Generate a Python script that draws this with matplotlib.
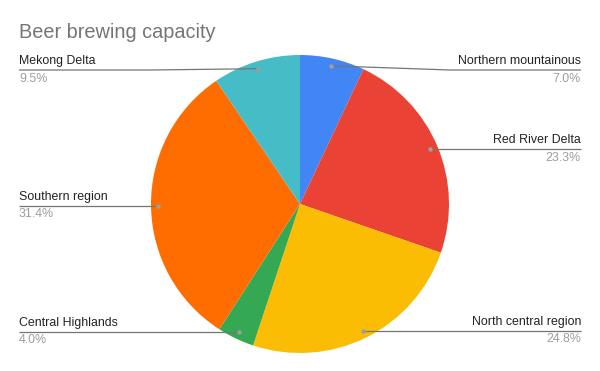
import numpy as np
import matplotlib
matplotlib.use("Agg")
import matplotlib.pyplot as plt

categories = ["Northern mountainous", "Red River Delta", "North central region",
              "Central Highlands", "Southern region", "Mekong Delta"]
values = [7.0, 23.3, 24.8, 4.0, 31.4, 9.5]
colors = ["#4285F4", "#EA4335", "#FBBC04", "#34A853", "#FF6D01", "#46BDC6"]

W, H = 600, 371
fig = plt.figure(figsize=(W / 100, H / 100), dpi=100)
ax = fig.add_axes([0, 0, 1, 1])

cx, cy, R = 300, H - 204, 149
ax.pie(values, colors=colors, startangle=90, counterclock=False,
       center=(cx, cy), radius=R, frame=True,
       wedgeprops=dict(linewidth=0))
ax.set_xlim(0, W)
ax.set_ylim(0, H)
ax.set_aspect("equal")
ax.axis("off")

fam = ["Liberation Sans", "DejaVu Sans"]
fig.text(19 / W, 1 - 32 / H, "Beer brewing capacity", fontsize=14.3, color="#757575",
         family=fam, va="center", ha="left")

# label line y (pixel from top, None = level with dot) and side
label_y = [70, None, None, None, None, 70]
sides = ["R", "R", "R", "L", "L", "L"]
knee = [450, None, None, None, None, 150]

total = sum(values)
cum = 0
for i, v in enumerate(values):
    mid = (cum + v / 2) / total * 2 * np.pi
    cum += v
    dx, dy = np.sin(mid) * R * 0.95, np.cos(mid) * R * 0.95
    px, py = cx + dx, cy + dy
    ly = H - label_y[i] if label_y[i] is not None else py
    edge = 581 if sides[i] == "R" else 19
    ha = "right" if sides[i] == "R" else "left"
    if knee[i] is not None:
        xs, ys = [px, knee[i], edge], [py, ly, ly]
    else:
        xs, ys = [px, edge], [ly, ly]
    ax.plot(xs, ys, color="#757575", lw=0.9, solid_capstyle="butt", zorder=3)
    ax.plot([px], [py], "o", color="#9e9e9e", ms=3.2, mec="none", zorder=4)
    ax.text(edge, ly + 3, categories[i], ha=ha, va="bottom", fontsize=8.9,
            color="#222222", family=fam)
    ax.text(edge, ly - 2.5, f"{v:.1f}%", ha=ha, va="top", fontsize=8.9,
            color="#9e9e9e", family=fam)

fig.savefig("out.png", dpi=100, facecolor="white")
